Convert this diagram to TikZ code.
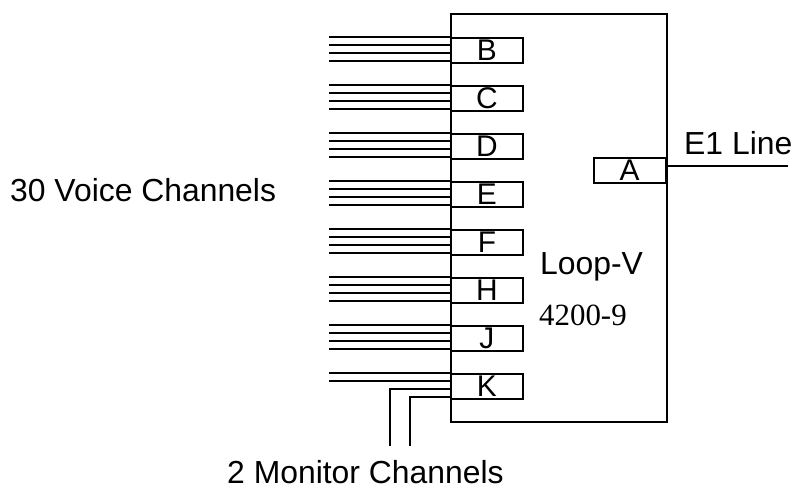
\documentclass[tikz,border=0pt]{standalone}
\usepackage{fontspec}
\setmainfont{Liberation Sans}
\newfontfamily\serifnum{Liberation Serif}
\usetikzlibrary{positioning,calc}
\tikzset{
  wire/.style={line width=1.8pt},
  port/.style={draw,line width=1.8pt,rectangle,minimum width=72bp,minimum height=24.5bp,
    inner sep=0pt,font=\fontsize{30}{30}\selectfont,anchor=north west},
  unit/.style={draw,line width=1.8pt,rectangle,minimum width=216bp,minimum height=408bp,
    inner sep=0pt,anchor=north west},
  lbl/.style={font=\fontsize{32}{34}\selectfont,inner sep=0pt},
}

\begin{document}
\begin{tikzpicture}[x=1bp,y=-1bp]
  \useasboundingbox (0,0) rectangle (792,490);
  \node[unit] (loopv) at (450,13.3) {};
  % voice ports with four wires each
  \foreach \p [count=\i from 0] in {B,C,D,E,F,H,J}{
    \node[port] (\p) at (450,37.3+48*\i) {\p};
    \foreach \k in {0,1,2,3}
      \draw[wire] ([yshift=-\k*8bp]\p.north west) -- ++(-121,0);
  }
  \node[port] (K) at (450,373.3) {K};
  \draw[wire] (K.north west) -- ++(-121,0);
  \draw[wire] ([yshift=-8bp]K.north west) -- ++(-121,0);
  % monitor wires bend down
  \draw[wire] ([yshift=-16bp]K.north west) -| ++(-60,57) coordinate (m1);
  \draw[wire] ([yshift=-24bp]K.north west) -| ++(-40,49) coordinate (m2);
  \node[port,anchor=north east] (A) at (666.5,157.3) {A};
  \draw[wire] ([yshift=4.5bp]A.east) -- ++(121,0) coordinate (e1);
  \node[lbl,anchor=base west] (e1lbl) at (684,155) {E1 Line};
  \node[lbl,anchor=base west] (voice) at (10,201.5) {30 Voice Channels};
  \node[lbl,anchor=base west] (name) at (540,275) {Loop-V};
  \node[lbl,anchor=base west,font=\serifnum\fontsize{31}{33}\selectfont] (model) at (539,325) {4200-9};
  \node[lbl,anchor=base west] (mon) at (227,483.5) {2 Monitor Channels};
\end{tikzpicture}
\end{document}
